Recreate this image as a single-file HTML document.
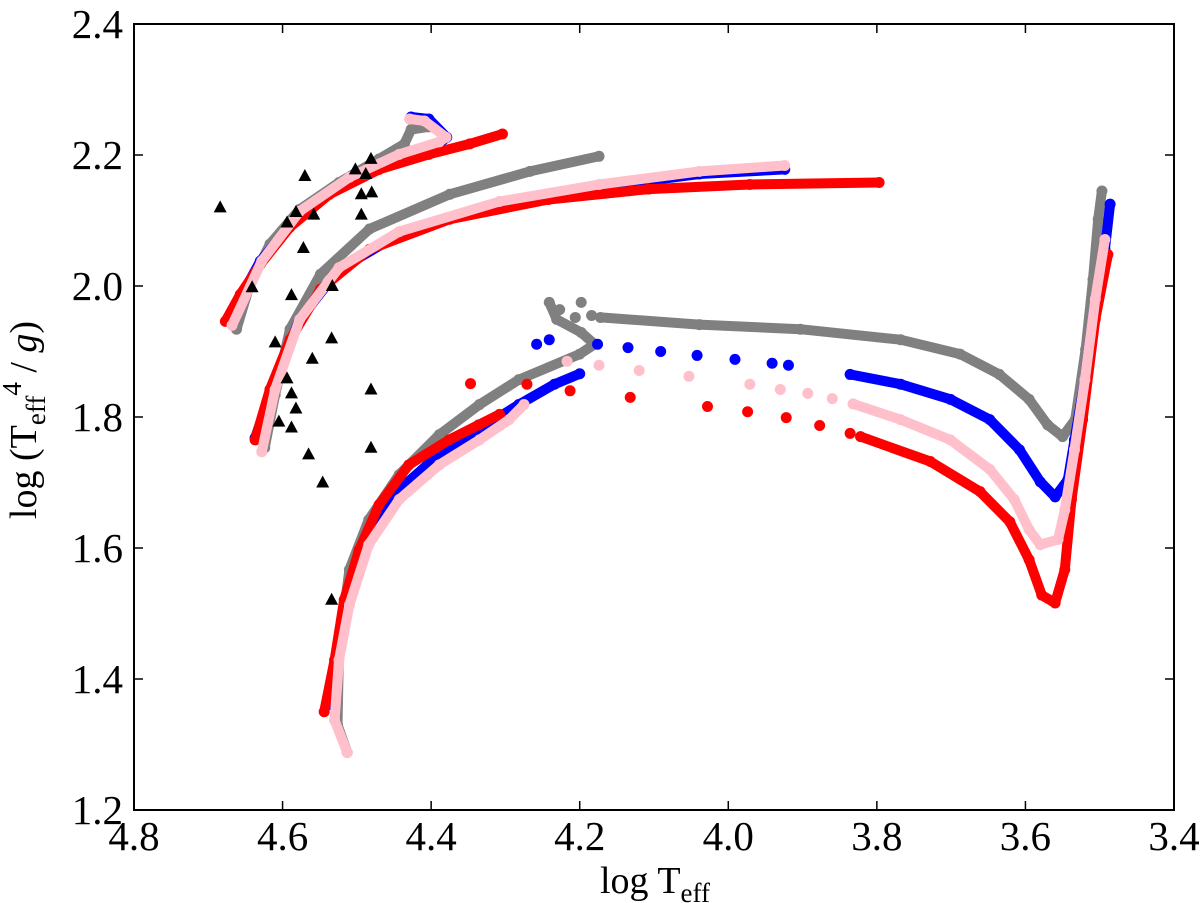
<!DOCTYPE html>
<html><head><meta charset="utf-8"><style>
body{margin:0;background:#fff}
svg{display:block;font-family:"Liberation Serif",serif}
</style></head><body>
<svg id="chart" width="1200" height="903" viewBox="0 0 1200 903" xmlns="http://www.w3.org/2000/svg">
<rect x="0" y="0" width="1200" height="903" fill="#fff"/>
<g id="marks"></g>
<rect x="134" y="24" width="1040" height="786" fill="none" stroke="#000" stroke-width="2"/>
<g id="axes"></g>
<text x="655" y="893" font-size="38" text-anchor="middle">log T<tspan font-size="27" dy="9">eff</tspan></text>
<text transform="translate(36,420) rotate(-90)" font-size="38" text-anchor="middle">log (T<tspan font-size="27" dy="9">eff</tspan><tspan font-size="27" dy="-24">4</tspan><tspan dy="15"> / </tspan><tspan font-style="italic">g</tspan>)</text>
</svg>
<script>
const xTicks=[4.8,4.6,4.4,4.2,4.0,3.8,3.6,3.4];
const yTicks=[1.2,1.4,1.6,1.8,2.0,2.2,2.4];
const triangles=[[4.684,2.120],[4.570,2.168],[4.481,2.194],[4.502,2.178],[4.488,2.171],[4.494,2.140],[4.480,2.143],[4.494,2.109],[4.582,2.113],[4.558,2.109],[4.594,2.097],[4.572,2.058],[4.641,1.998],[4.588,1.986],[4.533,2.000],[4.610,1.914],[4.534,1.920],[4.560,1.889],[4.594,1.859],[4.588,1.836],[4.582,1.813],[4.481,1.842],[4.605,1.793],[4.588,1.784],[4.481,1.753],[4.565,1.743],[4.546,1.700],[4.534,1.521]];
const greyA=[[4.662,1.934],[4.644,2.002],[4.617,2.064],[4.577,2.117],[4.524,2.158],[4.470,2.194],[4.436,2.217],[4.427,2.239],[4.403,2.243]];
const blueA=[[4.673,1.949],[4.630,2.038],[4.577,2.109],[4.510,2.163],[4.443,2.194],[4.389,2.217],[4.379,2.227],[4.403,2.255],[4.427,2.258]];
const redA=[[4.677,1.946],[4.657,1.987],[4.630,2.033],[4.590,2.090],[4.537,2.140],[4.470,2.178],[4.403,2.201],[4.348,2.217],[4.304,2.232]];
const pinkA=[[4.668,1.940],[4.628,2.038],[4.577,2.114],[4.510,2.166],[4.443,2.201],[4.389,2.220],[4.380,2.227],[4.409,2.252],[4.429,2.255]];
const greyB=[[4.624,1.753],[4.610,1.834],[4.590,1.934],[4.549,2.018],[4.483,2.087],[4.375,2.140],[4.267,2.175],[4.174,2.198]];
const blueB=[[4.637,1.768],[4.610,1.857],[4.577,1.949],[4.524,2.025],[4.443,2.079],[4.308,2.125],[4.174,2.151],[4.039,2.171],[3.924,2.178]];
const redB=[[4.637,1.765],[4.617,1.842],[4.590,1.918],[4.549,1.995],[4.483,2.056],[4.375,2.102],[4.242,2.132],[4.107,2.148],[3.971,2.155],[3.797,2.158]];
const pinkB=[[4.628,1.747],[4.610,1.842],[4.577,1.949],[4.524,2.028],[4.443,2.083],[4.308,2.129],[4.174,2.155],[4.039,2.175],[3.924,2.184]];
const greyC=[[4.513,1.288],[4.526,1.330],[4.524,1.444],[4.510,1.567],[4.484,1.643],[4.443,1.712],[4.389,1.773],[4.335,1.819],[4.282,1.857],[4.200,1.896],[4.180,1.911],[4.198,1.929],[4.231,1.949],[4.241,1.975]];
const greyGap=[[4.227,1.964],[4.206,1.952],[4.198,1.975],[4.184,1.955]];
const greyGiant=[[4.172,1.952],[4.039,1.941],[3.903,1.934],[3.768,1.918],[3.688,1.896],[3.635,1.865],[3.595,1.827],[3.570,1.788],[3.550,1.770],[3.533,1.796],[3.519,1.903],[3.509,2.010],[3.502,2.102],[3.497,2.145]];
const blueC=[[4.540,1.360],[4.524,1.460],[4.510,1.536],[4.484,1.620],[4.443,1.689],[4.389,1.743],[4.335,1.781],[4.282,1.819],[4.234,1.850],[4.200,1.866]];
const blueGap=[[4.258,1.911],[4.241,1.918],[4.176,1.911],[4.135,1.906],[4.091,1.900],[4.042,1.894],[3.991,1.888],[3.941,1.882],[3.919,1.879]];
const blueGiant=[[3.836,1.865],[3.768,1.850],[3.701,1.827],[3.648,1.796],[3.608,1.750],[3.580,1.701],[3.560,1.678],[3.543,1.704],[3.534,1.765],[3.520,1.857],[3.506,1.980],[3.493,2.056],[3.486,2.125]];
const redC=[[4.544,1.350],[4.530,1.429],[4.517,1.521],[4.497,1.597],[4.470,1.666],[4.430,1.727],[4.376,1.765],[4.336,1.788],[4.308,1.804]];
const redGap=[[4.347,1.851],[4.271,1.850],[4.213,1.840],[4.132,1.830],[4.028,1.816],[3.974,1.808],[3.922,1.799],[3.877,1.787],[3.836,1.775]];
const redGiant=[[3.822,1.770],[3.728,1.732],[3.661,1.686],[3.621,1.640],[3.595,1.582],[3.578,1.528],[3.560,1.516],[3.547,1.567],[3.538,1.674],[3.523,1.796],[3.506,1.949],[3.489,2.048]];
const pinkC=[[4.513,1.288],[4.530,1.337],[4.524,1.429],[4.510,1.513],[4.484,1.605],[4.443,1.674],[4.389,1.727],[4.335,1.765],[4.295,1.796],[4.275,1.819]];
const pinkGap=[[4.217,1.885],[4.174,1.879],[4.120,1.871],[4.053,1.862],[3.971,1.850],[3.930,1.842],[3.893,1.836],[3.860,1.828]];
const pinkGiant=[[3.832,1.820],[3.768,1.796],[3.701,1.765],[3.648,1.720],[3.615,1.674],[3.595,1.628],[3.580,1.605],[3.556,1.613],[3.547,1.658],[3.534,1.750],[3.520,1.857],[3.506,1.980],[3.493,2.071]];

const NS='http://www.w3.org/2000/svg';
const X0=134,X1=1174,Y0=810,Y1=24;
function sx(v){return X0+(4.8-v)/(4.8-3.4)*(X1-X0);}
function sy(v){return Y0-(v-1.2)/(2.4-1.2)*(Y0-Y1);}
const marks=document.getElementById('marks');
const axes=document.getElementById('axes');
function mk(tag,attrs,parent){const e=document.createElementNS(NS,tag);for(const k in attrs)e.setAttribute(k,attrs[k]);parent.appendChild(e);return e;}

xTicks.forEach(t=>{
  const x=sx(t);
  const a=mk('line',{x1:x,x2:x,y1:Y0,y2:Y0-9,stroke:'#000','stroke-width':1.5},axes);
  
  
  const b=mk('line',{x1:x,x2:x,y1:Y1,y2:Y1+9,stroke:'#000','stroke-width':1.5},axes);
  
  
  const l=mk('text',{x:x,y:850,'font-size':41,'text-anchor':'middle'},axes);
  l.textContent=t.toFixed(1);
  
  
});
yTicks.forEach(t=>{
  const y=sy(t);
  const a=mk('line',{x1:X0,x2:X0+9,y1:y,y2:y,stroke:'#000','stroke-width':1.5},axes);
  
  
  const b=mk('line',{x1:X1,x2:X1-9,y1:y,y2:y,stroke:'#000','stroke-width':1.5},axes);
  
  
  const l=mk('text',{x:123,y:y+14,'font-size':41,'text-anchor':'end'},axes);
  l.textContent=t.toFixed(1);
  
  
});

function dense(pts,color,name){
  const d=pts.map((p,i)=>(i?'L':'M')+sx(p[0]).toFixed(1)+' '+sy(p[1]).toFixed(1)).join(' ');
  const path=mk('path',{d:d,fill:'none',stroke:color,'stroke-width':10,'stroke-linecap':'round','stroke-linejoin':'round'},marks);
  
  
  dots(pts,color,name);
}
function dots(pts,color,name){
  pts.forEach(p=>{
    const c=mk('circle',{cx:sx(p[0]),cy:sy(p[1]),r:5.5,fill:color},marks);
    
    
  });
}
const GREY='#808080',BLUE='#0000ff',RED='#ff0000',PINK='#ffc0cb';
dense(greyA,GREY,'grey-a');dense(greyB,GREY,'grey-b');dense(greyC,GREY,'grey-c');dots(greyGap,GREY,'grey-gap');dense(greyGiant,GREY,'grey-giant');
dense(blueA,BLUE,'blue-a');dense(blueB,BLUE,'blue-b');dense(blueC,BLUE,'blue-c');dots(blueGap,BLUE,'blue-gap');dense(blueGiant,BLUE,'blue-giant');
dense(redA,RED,'red-a');dense(redB,RED,'red-b');dense(redC,RED,'red-c');dots(redGap,RED,'red-gap');dense(redGiant,RED,'red-giant');
dense(pinkA,PINK,'pink-a');dense(pinkB,PINK,'pink-b');dense(pinkC,PINK,'pink-c');dots(pinkGap,PINK,'pink-gap');dense(pinkGiant,PINK,'pink-giant');
triangles.forEach(p=>{
  const x=sx(p[0]),y=sy(p[1]);
  const t=mk('polygon',{points:`${x},${y-7} ${x-6.5},${y+5} ${x+6.5},${y+5}`,fill:'#000'},marks);
  
  
});
</script>
</body></html>
